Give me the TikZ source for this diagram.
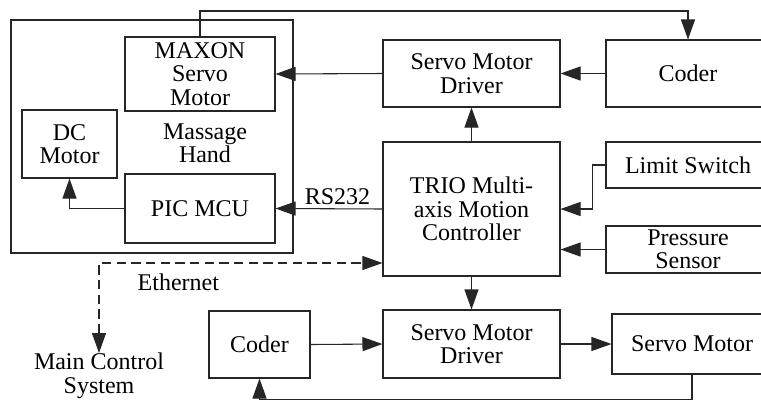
\documentclass[tikz,border=0pt]{standalone}
\usepackage{fontspec}
\setmainfont{Liberation Serif}
\usetikzlibrary{arrows.meta}
\tikzset{
  blk/.style 2 args={draw=black!85, line width=0.8pt, align=center, inner sep=0pt,
       minimum width=#1*0.75pt, minimum height=#2*0.75pt},
  lbl/.style={align=center, inner sep=0pt},
  link/.style={draw=black!85, line width=0.8pt},
  arr/.style={link, -{Triangle[length=15pt,width=10.5pt]}},
  arr both/.style={link, {Triangle[length=15pt,width=10.5pt]}-{Triangle[length=15pt,width=10.5pt]}},
  eth/.style={dash pattern=on 7pt off 4pt}
}
\begin{document}
\begin{tikzpicture}[x=0.75pt, y=-0.75pt, font=\fontsize{18}{17.5}\selectfont]
\clip (0,0) rectangle (761,401);
\fill[white] (0,0) rectangle (761,401);
% massage hand
\node (hand) [blk={282}{233}] at (152,136.5) {};
\node (maxon) [blk={150}{74}] at (200,74) {MAXON\\Servo\\Motor};
\node (dc) [blk={95}{68}] at (69.5,144) {DC\\Motor};
\node (pic) [blk={150}{69}] at (200,208.5) {PIC MCU};
\node (handtxt) [lbl] at (205,143) {Massage\\Hand};
% upper row
\node (drv1) [blk={177}{67}] at (471.5,73.5) {Servo Motor\\Driver};
\node (coder1) [blk={164}{67}] at (688,73.5) {Coder};
\node (trio) [blk={177}{134}] at (471.5,209) {TRIO Multi-\\axis Motion\\Controller};
\node (lim) [blk={164}{46}] at (688,165) {Limit Switch};
\node (pres) [blk={164}{47}] at (688,249.5) {Pressure\\Sensor};
% lower row
\node (coder2) [blk={101}{67}] at (259.5,344.5) {Coder};
\node (drv2) [blk={177}{68}] at (471.5,344) {Servo Motor\\Driver};
\node (servo) [blk={160}{60}] at (692,344) {Servo Motor};
\node (mcs) [lbl, anchor=north] at (99,353) {Main Control\\System};
\coordinate (top) at (0,11);
\coordinate (ethy) at (0,263);

\draw[arr] (maxon.north) -- (maxon.north |- top) -| (coder1.north);
\draw[arr] (coder1.west) -- (drv1.east);
\draw[arr] (drv1.west) -- (maxon.east);
\draw[arr] (trio.north) -- (drv1.south);
\draw[arr] (lim.west) -- ++(-13,0) |- (trio.east);
\draw[arr] (pres.west) -- (pres.west -| trio.east);
\draw[arr] (trio.west) -- node[lbl, above, pos=0.42, yshift=3pt] (rs) {RS232} (pic.east);
\draw[arr] (pic.west) -| (dc.south);
\draw[arr both, eth] (mcs.north) |- (trio.west |- ethy)
  node[lbl, pos=0.64, below, yshift=-8pt] (ethtxt) {Ethernet};
\draw[arr] (trio.south) -- (drv2.north);
\draw[arr] (coder2.east) -- (drv2.west);
\draw[arr] (drv2.east) -- (servo.west);
\draw[arr] (servo.south) -- ++(0,25) -| (coder2.south);
\end{tikzpicture}
\end{document}
